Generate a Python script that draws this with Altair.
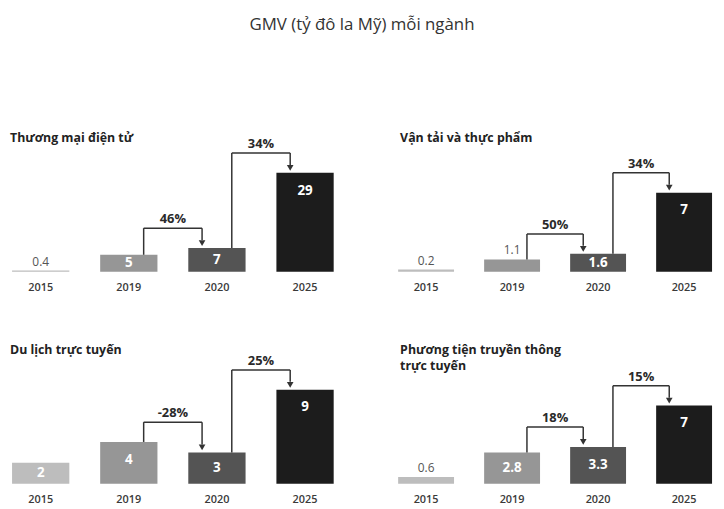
import altair as alt
import pandas as pd

# ---------------- data ----------------
years = ["2015", "2019", "2020", "2025"]
sector_titles = [
    "Thương mại điện tử",
    "Vận tải và thực phẩm",
    "Du lịch trực tuyến",
    "Phương tiện truyền thông\ntrực tuyến",
]
ecommerce = [0.4, 5, 7, 29]
transport_food = [0.2, 1.1, 1.6, 7]
online_travel = [2, 4, 3, 9]
online_media = [0.6, 2.8, 3.3, 7]
value_labels = [
    ["0.4", "5", "7", "29"],
    ["0.2", "1.1", "1.6", "7"],
    ["2", "4", "3", "9"],
    ["0.6", "2.8", "3.3", "7"],
]
growth_from = ["2019", "2020"]
growth_to = ["2020", "2025"]
growth_labels = [["46%", "34%"], ["50%", "34%"], ["-28%", "25%"], ["18%", "15%"]]
bar_colors = ["#bdbdbd", "#969696", "#545454", "#1c1c1c"]

FONT = "Open Sans"
H = 145
y_max = [42.05, 12.69, 13.74, 12.85]
LINE = "#333333"
P_IN, P_OUT = 0.35, 0.046


def panel(i, values, width, title_x):
    dmax = y_max[i]
    step = width / (4 - P_IN + 2 * P_OUT)
    modes = []
    for v in values:
        px = v / dmax * H
        modes.append("above" if px < 14 else ("center" if px < 36 else "top"))
    bars = pd.DataFrame({"year": years, "value": values,
                         "label": value_labels[i], "mode": modes})
    conn = pd.DataFrame({
        "from": growth_from, "to": growth_to,
        "vfrom": [values[1], values[2]], "vto": [values[2], values[3]],
        "pct": growth_labels[i],
    })
    conn["top"] = conn[["vfrom", "vto"]].max(axis=1)

    xs = alt.Scale(domain=years, paddingInner=P_IN, paddingOuter=P_OUT)
    ys = alt.Scale(domain=[0, dmax])
    xaxis = alt.Axis(title=None, labelAngle=0, domain=False, ticks=False,
                     labelPadding=10, labelFontSize=11, labelColor="#3a3a3a",
                     labelFont=FONT, labelFontWeight=600)

    def X(f):
        return alt.X(f"{f}:N", scale=xs, axis=xaxis)

    def Y(f):
        return alt.Y(f"{f}:Q", scale=ys, axis=None)

    b = alt.Chart(bars)
    bar_layer = b.mark_bar().encode(
        x=X("year"), y=Y("value"),
        color=alt.Color("year:N", scale=alt.Scale(domain=years, range=bar_colors), legend=None),
    )
    lab_above = b.transform_filter("datum.mode == 'above'").mark_text(
        baseline="middle", yOffset=-9, fontSize=12, color="#555555", font=FONT
    ).encode(x=X("year"), y=Y("value"), text="label:N")
    lab_center = b.transform_filter("datum.mode == 'center'").transform_calculate(
        mid="datum.value / 2"
    ).mark_text(
        baseline="middle", fontSize=13.5, fontWeight="bold", color="white", font=FONT
    ).encode(x=X("year"), y=Y("mid"), text="label:N")
    lab_top = b.transform_filter("datum.mode == 'top'").mark_text(
        baseline="middle", yOffset=18, fontSize=13.5, fontWeight="bold", color="white", font=FONT
    ).encode(x=X("year"), y=Y("value"), text="label:N")

    c = alt.Chart(conn)
    up = c.mark_rule(xOffset=15, y2Offset=-20, color=LINE, strokeWidth=1.5).encode(
        x=X("from"), y=Y("vfrom"), y2="top:Q")
    horiz = c.mark_rule(xOffset=15, x2Offset=-15, yOffset=-20, y2Offset=-20,
                        color=LINE, strokeWidth=1.5).encode(
        x=X("from"), x2=alt.X2("to:N", bandPosition=0.5), y=Y("top"))
    down = c.mark_rule(xOffset=-15, yOffset=-20, y2Offset=-8, color=LINE, strokeWidth=1.5).encode(
        x=X("to"), y=Y("top"), y2="vto:Q")
    arrow = c.mark_point(shape="triangle-down", filled=True, size=45, opacity=1,
                         xOffset=-15, yOffset=-5, color=LINE).encode(
        x=X("to"), y=Y("vto"))
    pct = c.mark_text(xOffset=step / 2, yOffset=-29, baseline="middle", fontSize=13,
                      fontWeight="bold", color="#2a2a2a", font=FONT).encode(
        x=X("from"), y=Y("top"), text="pct:N")

    ttl = alt.Chart(pd.DataFrame({"t": [sector_titles[i]]})).mark_text(
        align="left", baseline="top", lineBreak="\n", fontSize=12.5, fontWeight="bold",
        color="#222222", font=FONT, lineHeight=16
    ).encode(x=alt.value(title_x), y=alt.value(4), text="t:N")

    return alt.layer(bar_layer, lab_above, lab_center, lab_top, up, horiz, down, arrow, pct, ttl
                     ).properties(width=width, height=H)


row1 = alt.hconcat(
    panel(0, ecommerce, 333, 2),
    panel(1, transport_food, 325, 6),
    spacing=57,
)
row2 = alt.hconcat(
    panel(2, online_travel, 333, 2),
    panel(3, online_media, 325, 6),
    spacing=57,
)

chart = alt.vconcat(row1, row2, spacing=48).properties(
    title=alt.Title("GMV (tỷ đô la Mỹ) mỗi ngành", anchor="middle", fontSize=17,
                    fontWeight="normal", color="#333333", font=FONT, offset=95),
    padding={"left": 0, "top": 6, "right": 0, "bottom": 0},
).configure(font=FONT).configure_view(stroke=None, strokeWidth=0)

chart.save("out.html", embed_options={"renderer": "svg", "actions": False})
